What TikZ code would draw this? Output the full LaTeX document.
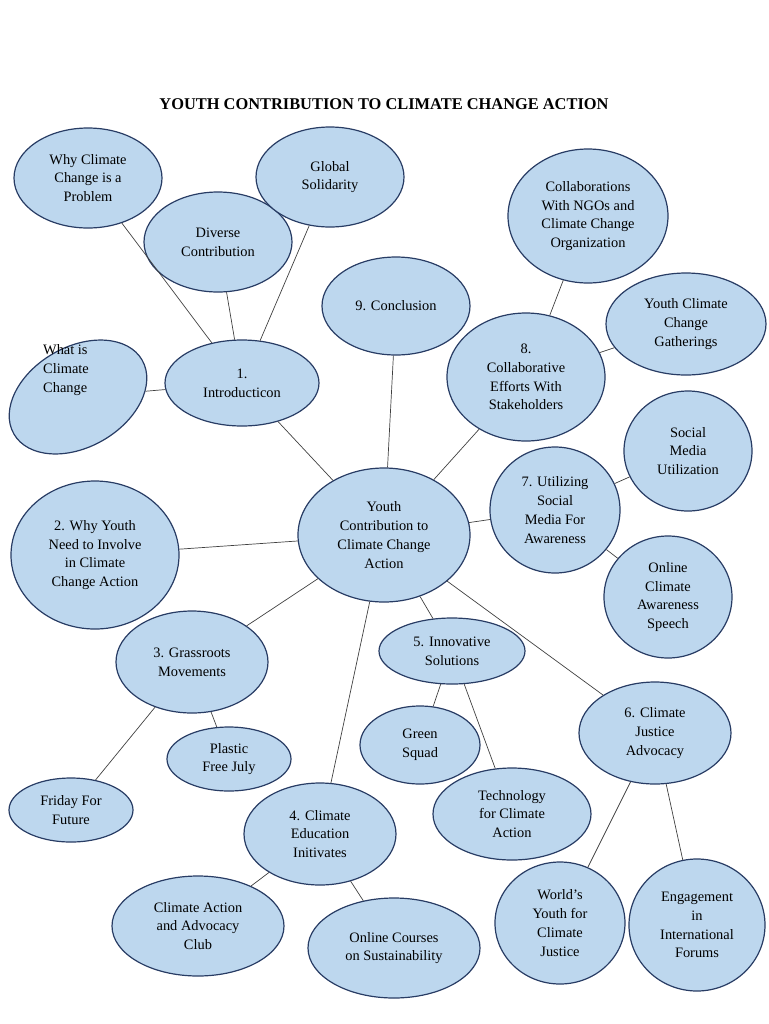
\documentclass[tikz,border=0pt]{standalone}
\usepackage{fontspec}
\setmainfont{Liberation Serif}
\usetikzlibrary{shapes.geometric}
\definecolor{bubble}{RGB}{189,215,238}
\definecolor{rim}{RGB}{40,60,100}
\tikzset{
  bub/.style={ellipse, draw=rim, fill=bubble, line width=0.6pt, inner sep=0pt,
    align=center, font=\fontsize{7.2}{9.4}\selectfont},
  link/.style={draw=black!75, line width=0.35pt}
}
\begin{document}
\begin{tikzpicture}[x=0.5pt,y=-0.5pt]
\useasboundingbox (0,0) rectangle (768,1024);
\node [font=\bfseries\fontsize{8.2}{10}\selectfont] (title) at (384,104) {YOUTH CONTRIBUTION TO CLIMATE CHANGE ACTION};
% centre
\node [bub, minimum width=172pt/2, minimum height=134pt/2] (yc) at (384,535) {Youth\\Contribution to\\Climate Change\\Action};
% 1. introduction
\node [bub, minimum width=154pt/2, minimum height=86pt/2] (intro) at (242,383) {1.\\Introducticon};
\node [bub, minimum width=148pt/2, minimum height=100pt/2] (why) at (88,178) {Why Climate\\Change is a\\Problem};
\node [bub, minimum width=148pt/2, minimum height=100pt/2] (div) at (218,242) {Diverse\\Contribution};
\node [bub, minimum width=148pt/2, minimum height=100pt/2] (glob) at (330,177) {Global\\Solidarity};
\node [bub, minimum width=148pt/2, minimum height=100pt/2, rotate=30, font=\fontsize{0.1}{0.1}\selectfont] (what) at (78,397) {};
\node [align=left, font=\fontsize{7.2}{9.4}\selectfont] (whattxt) at (66,370) {What is\\Climate\\Change};
% 9 and 8
\node [bub, minimum width=148pt/2, minimum height=98pt/2] (concl) at (396,306) {9. Conclusion};
\node [bub, minimum width=158pt/2, minimum height=128pt/2] (collab) at (526,377) {8.\\Collaborative\\Efforts With\\Stakeholders};
\node [bub, minimum width=160pt/2, minimum height=134pt/2] (ngo) at (588,216) {Collaborations\\With NGOs and\\Climate Change\\Organization};
\node [bub, minimum width=160pt/2, minimum height=102pt/2] (gath) at (686,324) {Youth Climate\\Change\\Gatherings};
% 7. social media
\node [bub, minimum width=130pt/2, minimum height=126pt/2] (media) at (555,510) {7. Utilizing\\Social\\Media For\\Awareness};
\node [bub, minimum width=128pt/2, minimum height=120pt/2] (soc) at (688,451) {Social\\Media\\Utilization};
\node [bub, minimum width=128pt/2, minimum height=122pt/2] (speech) at (668,597) {Online\\Climate\\Awareness\\Speech};
% 2. why youth
\node [bub, minimum width=168pt/2, minimum height=148pt/2] (youth) at (95,555) {2. Why Youth\\Need to Involve\\in Climate\\Change Action};
% 3. grassroots
\node [bub, minimum width=152pt/2, minimum height=102pt/2] (grass) at (192,662) {3. Grassroots\\Movements};
\node [bub, minimum width=124pt/2, minimum height=64pt/2] (fri) at (71,810) {Friday For\\Future};
\node [bub, minimum width=124pt/2, minimum height=64pt/2] (plast) at (229,759) {Plastic\\Free July};
% 5. innovative
\node [bub, minimum width=146pt/2, minimum height=66pt/2] (innov) at (452,651) {5. Innovative\\Solutions};
\node [bub, minimum width=120pt/2, minimum height=78pt/2] (green) at (420,745) {Green\\Squad};
\node [bub, minimum width=158pt/2, minimum height=92pt/2] (tech) at (512,814) {Technology\\for Climate\\Action};
% 4. education
\node [bub, minimum width=152pt/2, minimum height=102pt/2] (edu) at (320,834) {4. Climate\\Education\\Initivates};
\node [bub, minimum width=172pt/2, minimum height=100pt/2] (club) at (198,926) {Climate Action\\and Advocacy\\Club};
\node [bub, minimum width=172pt/2, minimum height=100pt/2] (course) at (394,948) {Online Courses\\on Sustainability};
% 6. justice
\node [bub, minimum width=152pt/2, minimum height=102pt/2] (just) at (655,733) {6. Climate\\Justice\\Advocacy};
\node [bub, minimum width=130pt/2, minimum height=122pt/2] (world) at (560,923) {World’s\\Youth for\\Climate\\Justice};
\node [bub, minimum width=136pt/2, minimum height=132pt/2] (forum) at (697,925) {Engagement\\in\\International\\Forums};
% links
\draw [link] (yc) -- (intro);
\draw [link] (intro) -- (why);
\draw [link] (intro) -- (div);
\draw [link] (intro) -- (glob);
\draw [link] (intro) -- (what);
\draw [link] (yc) -- (concl);
\draw [link] (yc) -- (collab);
\draw [link] (collab) -- (ngo);
\draw [link] (collab) -- (gath);
\draw [link] (yc) -- (media);
\draw [link] (media) -- (soc);
\draw [link] (media) -- (speech);
\draw [link] (yc) -- (youth);
\draw [link] (yc) -- (grass);
\draw [link] (grass) -- (fri);
\draw [link] (grass) -- (plast);
\draw [link] (yc) -- (innov);
\draw [link] (innov) -- (green);
\draw [link] (innov) -- (tech);
\draw [link] (yc) -- (edu);
\draw [link] (edu) -- (club);
\draw [link] (edu) -- (course);
\draw [link] (yc) -- (just);
\draw [link] (just) -- (world);
\draw [link] (just) -- (forum);
\end{tikzpicture}
\end{document}
